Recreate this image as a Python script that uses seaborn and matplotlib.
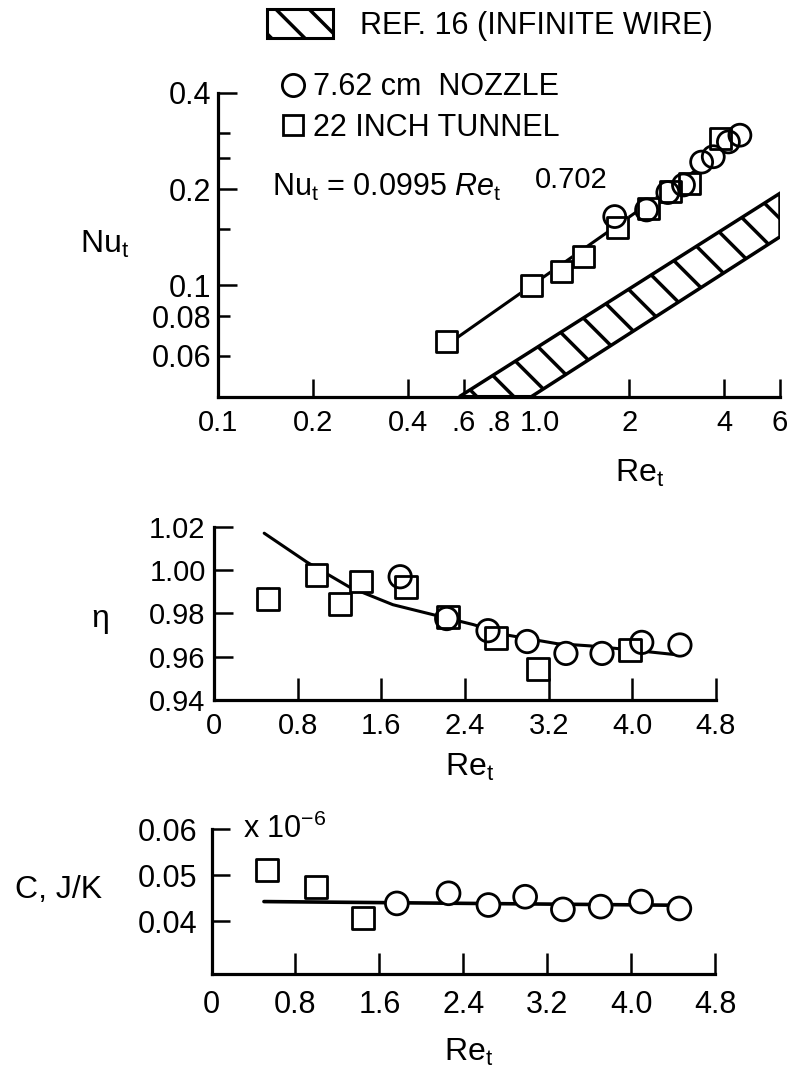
import numpy as np
import matplotlib
matplotlib.use("Agg")
import matplotlib.pyplot as plt
import matplotlib.transforms as mtransforms
from matplotlib.lines import Line2D
from matplotlib.patches import Patch
from matplotlib.ticker import NullLocator
import seaborn as sns

# --- Nu_t against Re_t (log-log panel) ---
nozzle_re = [1.80, 2.27, 2.65, 2.97, 3.39, 3.69, 4.12, 4.48]
nozzle_nu = [0.164, 0.172, 0.195, 0.206, 0.243, 0.2525, 0.281, 0.295]
tunnel_re = [0.53, 0.98, 1.22, 1.43, 1.84, 2.30, 2.70, 3.11, 3.88]
tunnel_nu = [0.0664, 0.100, 0.110, 0.1227, 0.152, 0.174, 0.197, 0.208, 0.288]
fit_re = [0.53, 4.45]
fit_nu = [0.065, 0.285]
# outline of the REF. 16 band (corners)
band_re = [0.58, 6.0, 6.0, 0.98]
band_nu = [0.0447, 0.194, 0.1417, 0.0447]

# --- eta against Re_t ---
tunnel_eta_re = [0.52, 0.98, 1.205, 1.41, 1.836, 2.24, 2.70, 3.10, 3.98]
tunnel_eta = [0.9865, 0.9978, 0.9841, 0.9947, 0.9922, 0.9785, 0.9688, 0.9544, 0.963]
nozzle_eta_re = [1.78, 2.225, 2.62, 2.995, 3.365, 3.71, 4.09, 4.455]
nozzle_eta = [0.9969, 0.9776, 0.972, 0.967, 0.9615, 0.9615, 0.9666, 0.9654]
curve_eta_re = [0.48, 0.89, 1.30, 1.71, 2.16, 2.48, 2.80, 3.28, 3.59, 3.91, 4.40]
curve_eta = [1.017, 1.0036, 0.992, 0.984, 0.9786, 0.9748, 0.970, 0.966, 0.965, 0.9635, 0.961]

# --- C (x 10^-6 J/K) against Re_t ---
tunnel_c_re = [0.527, 0.997, 1.443]
tunnel_c = [0.0512, 0.0475, 0.0407]
nozzle_c_re = [1.767, 2.26, 2.64, 2.99, 3.35, 3.71, 4.095, 4.46]
nozzle_c = [0.0439, 0.0461, 0.04355, 0.04535, 0.0426, 0.0432, 0.0443, 0.0428]
line_c_re = [0.5, 4.45]
line_c = [0.0443, 0.0435]

log_ticks = [0.1, 0.2, 0.4, 0.6, 0.8, 1.0, 2, 4, 6]
log_labels = ["0.1", "0.2", "0.4", ".6", ".8", "1.0", "2", "4", "6"]
lin_ticks = [0, 0.8, 1.6, 2.4, 3.2, 4.0, 4.8]
lin_labels = ["0", "0.8", "1.6", "2.4", "3.2", "4.0", "4.8"]

sns.set_style("ticks")
plt.rcParams["font.family"] = ["Liberation Sans", "DejaVu Sans"]
plt.rcParams["mathtext.fontset"] = "custom"
plt.rcParams["mathtext.rm"] = "Liberation Sans"
plt.rcParams["mathtext.it"] = "Liberation Sans:italic"
plt.rcParams["hatch.linewidth"] = 2.5
plt.rcParams["axes.linewidth"] = 2.3
for key in ["text.color", "axes.labelcolor", "axes.edgecolor", "xtick.color", "ytick.color"]:
    plt.rcParams[key] = "black"

W, H = 789, 1084
fig = plt.figure(figsize=(W / 100, H / 100), dpi=100)


def add_axes_px(left, right, top, bottom):
    return fig.add_axes([left / W, 1 - bottom / H, (right - left) / W, (bottom - top) / H])


def style_axes(ax, tick_len, label_size, ypad, xpad):
    sns.despine(ax=ax)
    ax.tick_params(which="both", direction="in", width=1.8, colors="black",
                   labelsize=label_size)
    ax.tick_params(axis="x", which="major", length=tick_len[0], pad=xpad)
    ax.tick_params(axis="y", which="major", length=tick_len[1], pad=ypad)
    ax.set_facecolor("white")


def draw_points(ax, xs, ys, marker, s):
    # white face first so lines stop at the symbol, outlines on top
    sns.scatterplot(x=xs, y=ys, marker=marker, s=s, color="white", edgecolor="white",
                    linewidth=0, ax=ax, zorder=3, legend=False)
    sns.scatterplot(x=xs, y=ys, marker=marker, s=s, color="none", edgecolor="black",
                    linewidth=2.0, ax=ax, zorder=4, legend=False)


# ---------------- top panel ----------------
ax1 = add_axes_px(218, 780, 93, 396.7)
ax1.set_xscale("log")
ax1.set_yscale("log")

band = ax1.fill(band_re, band_nu, facecolor="white", edgecolor="black", lw=2.5, zorder=2)[0]
w_px, h_px = 562, 303.7
spacing = 37.0
for x0 in np.arange(-h_px / w_px, 1.0, spacing / w_px):
    hl, = ax1.plot([x0, x0 + h_px / w_px], [1, 0], transform=ax1.transAxes,
                   color="black", lw=2.5, zorder=2)
    hl.set_clip_path(band)

sns.lineplot(x=fit_re, y=fit_nu, color="black", lw=2.2, ax=ax1, zorder=2)
draw_points(ax1, tunnel_re, tunnel_nu, "s", 230)
draw_points(ax1, nozzle_re, nozzle_nu, "o", 250)

ax1.set_xlim(0.1, 6)
ax1.set_ylim(0.0447, 0.4)
ax1.xaxis.set_minor_locator(NullLocator())
ax1.yaxis.set_minor_locator(NullLocator())
ax1.set_xticks(log_ticks, log_labels)
ax1.set_yticks([0.1, 0.2, 0.4], ["0.1", "0.2", "0.4"])
ax1.set_yticks([0.06, 0.08, 0.15, 0.25, 0.3], ["0.06", "0.08", "", "", ""], minor=True)
style_axes(ax1, (13, 14), 22, 5, 9)
ax1.tick_params(axis="x", labelsize=21)
ax1.tick_params(axis="y", which="minor", length=8.6, labelsize=22, pad=5)
# ".8" and "1.0" sit close together: nudge them apart a little
for i, dx in [(4, -5), (5, 6)]:
    lbl = ax1.xaxis.get_major_ticks()[i].label1
    lbl.set_transform(lbl.get_transform()
                      + mtransforms.ScaledTranslation(dx / 100, 0, fig.dpi_scale_trans))
ax1.set_xlabel(r"Re$_\mathregular{t}$", fontsize=23)
ax1.xaxis.set_label_coords(0.75, -0.2)
ax1.set_ylabel(r"Nu$_\mathregular{t}$", fontsize=23, rotation=0, ha="center", va="center")
ax1.yaxis.set_label_coords(-0.201, 0.5)

fig.text(272 / W, 1 - 196 / H, r"Nu$_\mathregular{t}$ = 0.0995 $Re_\mathregular{t}$",
         fontsize=22, ha="left", va="baseline")
fig.text(535 / W, 1 - 188 / H, "0.702", fontsize=21, ha="left", va="baseline")

ref_handle = Patch(facecolor="white", edgecolor="black", hatch="\\", lw=2.2)
fig.legend(handles=[ref_handle], labels=["REF. 16 (INFINITE WIRE)"],
           loc="center left", bbox_to_anchor=(267 / W, 1 - 25 / H), frameon=False,
           fontsize=22, handlelength=2.16, handleheight=1.11, handletextpad=0.88,
           borderpad=0, borderaxespad=0)
pt_handles = [
    Line2D([], [], marker="o", ls="none", mfc="white", mec="black", ms=16, mew=2.0),
    Line2D([], [], marker="s", ls="none", mfc="white", mec="black", ms=15, mew=2.0),
]
fig.legend(handles=pt_handles, labels=["7.62 cm  NOZZLE", "22 INCH TUNNEL"],
           loc="center left", bbox_to_anchor=(281 / W, 1 - 107.5 / H), frameon=False,
           fontsize=22, handlelength=0.8, handletextpad=0.25, labelspacing=0.33,
           borderpad=0, borderaxespad=0)

# ---------------- middle panel ----------------
ax2 = add_axes_px(214, 716, 526.7, 700)
sns.lineplot(x=curve_eta_re, y=curve_eta, color="black", lw=2.2, ax=ax2, zorder=2)
draw_points(ax2, tunnel_eta_re, tunnel_eta, "s", 250)
draw_points(ax2, nozzle_eta_re, nozzle_eta, "o", 260)
ax2.set_xlim(0, 4.8)
ax2.set_ylim(0.94, 1.02)
ax2.set_xticks(lin_ticks, lin_labels)
ax2.set_yticks([0.94, 0.96, 0.98, 1.00, 1.02], ["0.94", "0.96", "0.98", "1.00", "1.02"])
style_axes(ax2, (16, 14), 21, 6, 9)
ax2.set_xlabel(r"Re$_\mathregular{t}$", fontsize=23)
ax2.xaxis.set_label_coords(0.51, -0.3)
ax2.set_ylabel("η", fontsize=23, rotation=0, ha="center", va="center")
ax2.yaxis.set_label_coords(-0.227, 0.47)

# ---------------- bottom panel ----------------
ax3 = add_axes_px(211.5, 715, 829.3, 974.3)
sns.lineplot(x=line_c_re, y=line_c, color="black", lw=2.6, ax=ax3, zorder=2)
draw_points(ax3, tunnel_c_re, tunnel_c, "s", 260)
draw_points(ax3, nozzle_c_re, nozzle_c, "o", 270)
ax3.set_xlim(0, 4.8)
ax3.set_ylim(0.0285, 0.06)
ax3.set_xticks(lin_ticks, lin_labels)
ax3.set_yticks([0.04, 0.05, 0.06], ["0.04", "0.05", "0.06"])
style_axes(ax3, (15, 13), 22, 10, 11)
ax3.set_xlabel(r"Re$_\mathregular{t}$", fontsize=23)
ax3.xaxis.set_label_coords(0.51, -0.43)
ax3.set_ylabel("C, J/K", fontsize=23, rotation=0, ha="center", va="center")
ax3.yaxis.set_label_coords(-0.303, 0.58)
ax3.text(0.063, 1.0, r"x 10$^{\mathregular{-6}}$", transform=ax3.transAxes,
         fontsize=22, ha="left", va="center")

fig.savefig("out.png", dpi=100, facecolor="white")
